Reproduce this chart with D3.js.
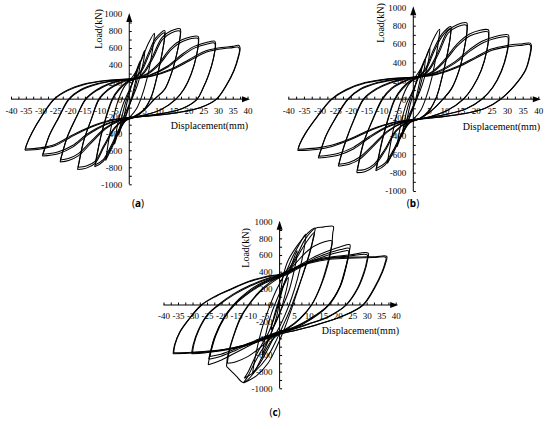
<!DOCTYPE html>
<html>
<head>
<meta charset="utf-8">
<script src="https://cdn.jsdelivr.net/npm/d3@7"></script>
<style>
body { margin: 0; background: #fff; }
svg text { font-family: "Liberation Serif", "Times New Roman", serif; fill: #000; }
.loop { fill: none; stroke: #000; stroke-width: 1.05; stroke-linejoin: round; }
.tick line { stroke: #000; }
</style>
</head>
<body>
<svg id="chart" width="550" height="429"></svg>
<script>
// tick labels
var xTickLabels = [-40,-35,-30,-25,-20,-15,-10,-5,5,10,15,20,25,30,35,40];
var yTickLabels = [-1000,-800,-600,-400,-200,0,200,400,600,800,1000];

// (a) hysteresis loops, [displacement mm, load kN]
var loopsA = [
  [[-2.4,-310],[-1.8,-210],[-0.9,-60],[0,60],[1,190],[2.6,340],[2.4,260],[1.6,130],[0.6,-10],[-0.4,-120],[-1.4,-230],[-2.4,-310]],
  [[-3.6,-420],[-3.1,-320],[-2.1,-150],[-0.9,0],[0.3,120],[1.6,250],[3.7,450],[3.5,360],[2.6,220],[1.3,50],[0,-80],[-1.3,-200],[-3.6,-420]],
  [[-5,-530],[-4.6,-430],[-3.6,-240],[-2.2,-70],[-0.6,60],[1,180],[2.6,320],[4,460],[5.2,570],[5,480],[4.1,330],[2.7,160],[1.1,20],[-0.5,-100],[-2,-220],[-3.5,-370],[-5,-530]],
  [[-8,-720],[-7.6,-630],[-6.6,-410],[-5.1,-180],[-3.6,0],[-1.6,150],[0.4,230],[2.4,330],[4.4,480],[6.4,650],[8.5,775],[8.3,690],[7.3,460],[6,240],[4.2,30],[2.5,-110],[0.5,-200],[-1.5,-260],[-3.5,-380],[-5.6,-550],[-8,-720]],
  [[-11.7,-795],[-11.2,-700],[-9.8,-460],[-7.8,-200],[-5.8,0],[-3.5,120],[-1,200],[1.5,240],[4,340],[6.5,540],[9,720],[12,805],[12,730],[11,520],[9.3,250],[7.5,30],[5,-130],[2,-210],[-1,-250],[-3.5,-370],[-6,-560],[-8.8,-730],[-11.7,-795]],
  [[-11.5,-770],[-11,-680],[-9.6,-440],[-7.6,-190],[-5.6,0],[-3.3,115],[-0.8,195],[1.6,235],[4.2,330],[6.7,520],[9.2,700],[11.9,780],[11.9,710],[10.9,500],[9.2,240],[7.4,25],[4.9,-125],[1.9,-205],[-1.1,-245],[-3.6,-360],[-6.1,-545],[-8.8,-710],[-11.5,-770]],
  [[-17.5,-827],[-17,-740],[-15.5,-500],[-13,-250],[-10.3,0],[-7,120],[-3.5,190],[0,230],[2.5,245],[5,325],[7.8,495],[11,720],[14,800],[17.2,827],[17.4,790],[16.5,600],[14.5,330],[12,120],[8.5,0],[5,-130],[1.5,-210],[-2,-250],[-5,-350],[-8.5,-560],[-11.5,-750],[-14.5,-810],[-17.5,-827]],
  [[-17.3,-800],[-16.8,-715],[-15.3,-480],[-12.8,-235],[-10.1,0],[-6.8,115],[-3.3,185],[0.2,225],[2.7,240],[5.2,315],[8,480],[11.2,700],[14.2,778],[17.1,800],[17.3,765],[16.4,580],[14.4,315],[11.9,110],[8.4,-5],[4.9,-130],[1.4,-205],[-2.1,-245],[-5.1,-340],[-8.6,-545],[-11.6,-730],[-14.5,-785],[-17.3,-800]],
  [[-23.4,-738],[-22.8,-660],[-21,-450],[-18,-220],[-14.8,0],[-11,110],[-7,180],[-3,220],[1.5,240],[6,300],[10,420],[14,600],[18,700],[23.3,737],[23.5,700],[22.8,520],[21,300],[18.5,120],[15.8,0],[11,-120],[6,-180],[1.5,-215],[-3,-250],[-8,-350],[-13,-520],[-17,-660],[-20.5,-720],[-23.4,-738]],
  [[-23.3,-715],[-22.7,-640],[-20.9,-435],[-17.9,-210],[-14.6,0],[-10.8,105],[-6.8,175],[-2.8,215],[1.7,235],[6.2,292],[10.2,408],[14.2,582],[18.2,680],[23.2,715],[23.4,680],[22.7,505],[20.9,290],[18.4,110],[15.6,-5],[10.8,-120],[5.8,-180],[1.3,-212],[-3.2,-245],[-8.2,-342],[-13.2,-505],[-17.2,-640],[-20.6,-698],[-23.3,-715]],
  [[-29.4,-667],[-28.8,-600],[-27,-420],[-24,-220],[-20.5,0],[-16.5,110],[-11,180],[-5,220],[1,240],[7,285],[13,390],[18,530],[22,620],[26,665],[28.9,682],[29.2,650],[28.5,480],[27,300],[25,130],[23,0],[18,-110],[11,-170],[4,-205],[-2,-235],[-8,-300],[-14,-420],[-19,-560],[-24,-640],[-29.4,-667]],
  [[-29.2,-648],[-28.6,-585],[-26.8,-410],[-23.8,-215],[-20.3,0],[-16.3,105],[-10.8,175],[-4.8,215],[1.2,236],[7.2,280],[13.2,380],[18.2,515],[22.2,602],[26.1,645],[28.8,660],[29.1,630],[28.4,470],[26.9,290],[24.9,125],[22.8,-5],[17.8,-112],[10.8,-170],[3.8,-203],[-2.2,-232],[-8.2,-295],[-14.2,-410],[-19.2,-545],[-24.2,-622],[-29.2,-648]],
  [[-35.3,-600],[-34.8,-540],[-33,-400],[-30,-220],[-25.5,0],[-21,105],[-15,180],[-8,220],[0,240],[7,270],[14,350],[20,460],[25,555],[30,600],[35,620],[37,632],[37.5,600],[37,500],[35.5,340],[33,170],[29.5,0],[24,-100],[16,-160],[8,-195],[1,-215],[-6,-250],[-13,-330],[-20,-450],[-25,-545],[-30,-585],[-35.3,-600]],
  [[-35.1,-585],[-34.6,-525],[-32.8,-390],[-29.8,-212],[-25.3,0],[-20.8,100],[-14.8,175],[-7.8,215],[0.2,236],[7.2,265],[14.2,342],[20.2,448],[25.2,540],[30.2,585],[35,605],[36.8,612],[37.3,585],[36.8,490],[35.3,330],[32.8,162],[29.3,-5],[23.8,-102],[15.8,-160],[7.8,-193],[0.8,-212],[-6.2,-246],[-13.2,-325],[-20.2,-440],[-25.2,-532],[-30.2,-572],[-35.1,-585]]
];

// (b) hysteresis loops
var loopsB = [
  [[-2.5,-300],[-1.9,-200],[-1,-60],[0,60],[1,190],[2.6,330],[2.4,250],[1.6,120],[0.6,-20],[-0.4,-120],[-1.5,-220],[-2.5,-300]],
  [[-3.7,-410],[-3.2,-310],[-2.2,-140],[-1,0],[0.3,120],[1.6,250],[3.8,440],[3.6,350],[2.7,210],[1.4,40],[0.1,-90],[-1.3,-210],[-3.7,-410]],
  [[-5.2,-520],[-4.8,-420],[-3.7,-230],[-2.3,-60],[-0.6,60],[1,180],[2.6,320],[4.1,460],[5.3,560],[5.1,470],[4.2,320],[2.8,150],[1.2,10],[-0.5,-110],[-2.1,-230],[-3.6,-370],[-5.2,-520]],
  [[-8.3,-700],[-7.9,-610],[-6.8,-400],[-5.3,-170],[-3.7,0],[-1.7,150],[0.4,230],[2.4,330],[4.4,480],[6.4,650],[8.4,760],[8.2,670],[7.2,450],[5.9,230],[4.1,20],[2.4,-120],[0.4,-205],[-1.6,-265],[-3.6,-380],[-5.8,-540],[-8.3,-700]],
  [[-12,-780],[-11.5,-690],[-10,-450],[-8,-200],[-6,0],[-3.6,120],[-1,200],[1.5,240],[4,340],[6.5,540],[9.2,710],[12,790],[12,720],[11,510],[9.3,250],[7.5,30],[5,-130],[2,-215],[-1,-255],[-3.6,-380],[-6.3,-570],[-9.2,-720],[-12,-780]],
  [[-11.8,-755],[-11.3,-670],[-9.8,-435],[-7.8,-190],[-5.8,0],[-3.4,115],[-0.8,195],[1.7,236],[4.2,330],[6.7,525],[9.4,692],[11.9,768],[11.9,700],[10.9,495],[9.2,240],[7.4,22],[4.9,-130],[1.9,-212],[-1.1,-250],[-3.7,-370],[-6.4,-555],[-9.2,-700],[-11.8,-755]],
  [[-18.1,-800],[-17.6,-710],[-16,-480],[-13,-220],[-10,0],[-7,120],[-3.5,190],[0,232],[2.5,248],[5,330],[8,520],[11,740],[14,810],[17.1,830],[17.3,790],[16.6,600],[14.8,330],[12.3,120],[9.5,0],[6,-120],[2,-215],[-2,-255],[-5.5,-350],[-9,-560],[-12.5,-730],[-15.5,-790],[-18.1,-800]],
  [[-17.9,-775],[-17.4,-690],[-15.8,-465],[-12.8,-212],[-9.8,0],[-6.8,115],[-3.3,185],[0.2,228],[2.7,244],[5.2,322],[8.2,505],[11.2,720],[14.1,788],[17,805],[17.2,768],[16.5,585],[14.7,320],[12.2,112],[9.4,-4],[5.9,-122],[1.9,-213],[-2.1,-250],[-5.6,-342],[-9.1,-545],[-12.6,-710],[-15.5,-765],[-17.9,-775]],
  [[-24,-730],[-23.4,-650],[-21.5,-440],[-19,-220],[-16,0],[-12,110],[-7.5,180],[-3,222],[1.5,242],[6,300],[10,430],[14,600],[18,710],[24,755],[24.2,715],[23.6,540],[21.8,320],[19,130],[16,0],[11,-120],[6,-185],[1.5,-222],[-3,-255],[-8,-350],[-13,-520],[-17,-650],[-20.5,-710],[-24,-730]],
  [[-23.8,-708],[-23.2,-630],[-21.3,-428],[-18.8,-212],[-15.8,0],[-11.8,106],[-7.3,176],[-2.8,218],[1.7,238],[6.2,294],[10.2,418],[14.2,582],[18.2,690],[23.9,732],[24.1,695],[23.5,525],[21.7,310],[18.9,125],[15.9,-4],[10.9,-122],[5.9,-185],[1.4,-220],[-3.1,-252],[-8.1,-342],[-13.1,-505],[-17.1,-630],[-20.6,-690],[-23.8,-708]],
  [[-30.4,-640],[-29.8,-575],[-28,-400],[-25,-210],[-21,0],[-17,110],[-11.5,180],[-5,222],[1,242],[7,290],[13,400],[18,540],[22,630],[26,680],[30.4,700],[30.6,665],[30,500],[28.3,310],[25.5,130],[22,0],[17,-105],[10,-170],[4,-208],[-2,-238],[-8,-300],[-14,-420],[-19,-540],[-24,-610],[-30.4,-640]],
  [[-30.2,-622],[-29.6,-560],[-27.8,-390],[-24.8,-205],[-20.8,0],[-16.8,106],[-11.3,176],[-4.8,218],[1.2,238],[7.2,284],[13.2,390],[18.2,525],[22.2,612],[26.1,660],[30.2,678],[30.4,645],[29.8,488],[28.1,302],[25.3,124],[21.8,-4],[16.8,-106],[9.8,-170],[3.8,-206],[-2.2,-235],[-8.2,-295],[-14.2,-410],[-19.2,-525],[-24.2,-592],[-30.2,-622]],
  [[-37,-560],[-36.5,-500],[-34.5,-370],[-31,-200],[-26.2,0],[-21.5,105],[-15.5,180],[-8,222],[0,242],[7,272],[14,355],[20,460],[25,545],[30,585],[35,603],[37.4,610],[37.8,585],[37.4,480],[36,320],[32.5,150],[28,0],[23,-100],[16,-160],[8,-198],[1,-222],[-6,-255],[-13,-330],[-20,-440],[-26,-515],[-31,-548],[-37,-560]],
  [[-36.8,-545],[-36.3,-488],[-34.3,-362],[-30.8,-195],[-26,0],[-21.3,100],[-15.3,175],[-7.8,218],[0.2,238],[7.2,267],[14.2,347],[20.2,450],[25.2,532],[30.2,570],[35,588],[37.2,595],[37.6,572],[37.2,470],[35.8,312],[32.3,145],[27.8,-4],[22.8,-102],[15.8,-160],[7.8,-196],[0.8,-220],[-6.2,-252],[-13.2,-325],[-20.2,-430],[-26.2,-502],[-31.2,-533],[-36.8,-545]]
];

// (c) hysteresis loops
var loopsC = [
  [[-3,-300],[-2.4,-200],[-1.3,-60],[-0.2,60],[1,200],[3,330],[2.7,240],[1.8,110],[0.8,-20],[-0.3,-130],[-1.6,-230],[-3,-300]],
  [[-6,-600],[-5.5,-480],[-4.3,-280],[-2.8,-100],[-1,60],[0.8,200],[2.5,340],[4.3,500],[6,650],[5.8,550],[4.8,380],[3.3,180],[1.5,20],[-0.3,-120],[-2,-260],[-3.8,-420],[-6,-600]],
  [[-9.3,-820],[-8.8,-700],[-7.5,-480],[-5.8,-250],[-3.8,-50],[-1.5,150],[0.5,290],[2.5,420],[4.5,580],[6.8,730],[9,850],[8.8,760],[7.8,560],[6.2,320],[4.2,90],[2,-110],[0,-260],[-2,-390],[-4.2,-540],[-6.6,-690],[-9.3,-820]],
  [[-12.5,-936],[-11,-860],[-9,-720],[-6.5,-560],[-4.5,-456],[-2.5,-300],[-1,-136],[0,50],[1.2,343],[3,540],[5.9,704],[9,840],[12.2,924],[11.8,840],[10.5,650],[8.5,420],[6,150],[3.6,-100],[1.5,-300],[-1,-500],[-4,-700],[-8,-850],[-12.5,-936]],
  [[-12.2,-880],[-10.8,-800],[-8.8,-650],[-6.2,-480],[-3.8,-330],[-1.8,-150],[0,60],[1.8,280],[4,450],[6.5,600],[9.3,760],[12,870],[11.6,790],[10.2,600],[8.2,380],[5.6,130],[3.2,-90],[1,-260],[-1.5,-450],[-4.5,-640],[-8.3,-790],[-12.2,-880]],
  [[-18.3,-737],[-17.8,-600],[-16,-380],[-13.5,-150],[-10.8,0],[-7,160],[-3,280],[0,340],[3,430],[6,600],[9,800],[12.3,920],[15,935],[18.5,944],[18.3,860],[18,730],[16.5,500],[14,220],[11,0],[7,-170],[3,-280],[0,-340],[-3,-440],[-6,-620],[-9,-820],[-12.5,-930],[-15,-850],[-18.3,-737]],
  [[-18,-700],[-17.5,-580],[-15.8,-370],[-13.3,-150],[-10.6,0],[-7,150],[-3,260],[0,330],[3,400],[6,520],[10,660],[14,740],[18,770],[17.8,680],[16.6,480],[14,210],[11,0],[7,-160],[3,-270],[0,-330],[-3,-400],[-7,-520],[-11,-620],[-15,-680],[-18,-700]],
  [[-24.6,-717],[-24,-600],[-22.5,-400],[-19.5,-170],[-16,0],[-11,160],[-6,270],[-1,340],[2,380],[6,460],[11,560],[16,640],[21,700],[24.2,724],[24,640],[23,470],[21,230],[17,0],[11,-170],[5,-280],[0,-330],[-5,-400],[-10,-480],[-15,-570],[-20,-660],[-24.6,-717]],
  [[-24.4,-650],[-23.8,-555],[-22.3,-375],[-19.3,-160],[-15.8,0],[-10.8,150],[-5.8,262],[-0.8,332],[2.2,372],[6.2,450],[11.2,545],[16.2,615],[21,665],[24,680],[23.8,605],[22.8,450],[20.8,220],[16.8,-4],[10.8,-165],[4.8,-275],[-0.2,-325],[-5.2,-392],[-10.2,-465],[-15.2,-545],[-20.2,-615],[-24.4,-650]],
  [[-24,-617],[-23.4,-530],[-21.9,-360],[-18.9,-150],[-15.5,0],[-10.5,145],[-5.5,255],[-0.5,326],[2.5,366],[6.5,440],[11.5,530],[16.5,598],[21.2,640],[23.8,650],[23.6,585],[22.6,435],[20.6,210],[16.6,-6],[10.6,-160],[4.6,-270],[-0.4,-320],[-5.4,-385],[-10.4,-455],[-15.4,-530],[-20.2,-590],[-24,-617]],
  [[-30.3,-585],[-29.8,-480],[-28,-300],[-25,-120],[-21.2,0],[-16,130],[-10,240],[-4,320],[0,360],[5,440],[10,520],[16,570],[24,600],[30.5,624],[30.3,540],[29.3,400],[27,200],[23,0],[17,-140],[10,-230],[4,-300],[0,-340],[-6,-420],[-13,-500],[-20,-550],[-26,-575],[-30.3,-585]],
  [[-30,-575],[-29.5,-470],[-27.7,-292],[-24.7,-115],[-20.9,0],[-15.7,125],[-9.7,234],[-3.7,314],[0.3,354],[5.3,432],[10.3,510],[16.3,560],[24.2,588],[30.2,602],[30,525],[29,390],[26.7,192],[22.7,-5],[16.7,-140],[9.7,-228],[3.7,-296],[-0.3,-335],[-6.3,-414],[-13.3,-492],[-20.3,-542],[-26,-566],[-30,-575]],
  [[-36.7,-585],[-36.2,-480],[-34.5,-330],[-31.5,-180],[-27,0],[-22,110],[-17,190],[-11,280],[-5,340],[0,370],[5,440],[10,510],[17,560],[26,575],[33,580],[36.9,584],[36.5,500],[35.5,400],[33,220],[28.8,0],[22,-130],[13,-236],[6,-300],[0,-350],[-9,-456],[-16,-520],[-23,-556],[-30,-575],[-36.7,-585]],
  [[-36.5,-575],[-36,-472],[-34.3,-324],[-31.3,-175],[-26.8,0],[-21.8,106],[-16.8,186],[-10.8,275],[-4.8,334],[0.2,364],[5.2,432],[10.2,500],[17.2,550],[26.2,564],[33,570],[36.6,572],[36.2,492],[35.2,392],[32.7,214],[28.5,-4],[21.7,-132],[12.7,-238],[5.7,-302],[-0.3,-350],[-9.3,-454],[-16.3,-516],[-23.3,-550],[-30.2,-567],[-36.5,-575]]
];

var panels = [
  { loops: loopsA, x0: 11, x1: 247.5, yTop: 14, yBot: 184.3, loadPos: [98, 29], dispPos: [248, 128.5], name: "a", namePos: [138, 207] },
  { loops: loopsB, x0: 288.3, x1: 538.3, yTop: 7.3, yBot: 191, loadPos: [380, 23], dispPos: [540, 129.5], name: "b", namePos: [413, 207] },
  { loops: loopsC, x0: 163.5, x1: 395.7, yTop: 221.7, yBot: 388.3, loadPos: [245, 248], dispPos: [399, 334], name: "c", namePos: [275, 416] }
];

var svg = d3.select("#chart");

panels.forEach(function(p) {
  var x = d3.scaleLinear().domain([-40, 40]).range([p.x0, p.x1]);
  var y = d3.scaleLinear().domain([-1000, 1000]).range([p.yBot, p.yTop]);
  var g = svg.append("g");
  var x0 = x(0), y0 = y(0);

  // x axis: minor ticks up, labels below
  g.append("g").attr("transform", "translate(0," + y0 + ")")
    .call(d3.axisBottom(x).tickValues(d3.range(-40, 40.1, 2.5)).tickSize(-2.5).tickFormat(""))
    .call(function(s) { s.select(".domain").remove(); });
  g.append("g").attr("transform", "translate(0," + y0 + ")")
    .call(d3.axisBottom(x).tickValues(xTickLabels).tickSize(0).tickPadding(8).tickFormat(function(d) { return String(d); }))
    .call(function(s) { s.select(".domain").remove(); s.selectAll("text").attr("font-family", null).attr("font-size", null).style("font-size", "9px"); });

  // y axis: minor ticks right, labels left
  g.append("g").attr("transform", "translate(" + x0 + ",0)")
    .call(d3.axisLeft(y).tickValues(d3.range(-1000, 901, 100)).tickSize(-2.5).tickFormat(""))
    .call(function(s) { s.select(".domain").remove(); });
  g.append("g").attr("transform", "translate(" + x0 + ",0)")
    .call(d3.axisLeft(y).tickValues(yTickLabels).tickSize(0).tickPadding(7).tickFormat(function(d) { return String(d); }))
    .call(function(s) { s.select(".domain").remove(); s.selectAll("text").attr("font-family", null).attr("font-size", null).style("font-size", "9px"); });

  // axis lines and arrows
  var xEnd = x(40) + 2.5, yEnd = y(1000) - 1;
  g.append("line").attr("x1", x(-40)).attr("x2", xEnd - 6).attr("y1", y0).attr("y2", y0).attr("stroke", "#000");
  g.append("path").attr("d", "M" + xEnd + "," + y0 + "L" + (xEnd - 8) + "," + (y0 - 3) + "L" + (xEnd - 8) + "," + (y0 + 3) + "Z").attr("fill", "#000");
  g.append("line").attr("x1", x0).attr("x2", x0).attr("y1", y(-1000)).attr("y2", yEnd + 6).attr("stroke", "#000");
  g.append("path").attr("d", "M" + x0 + "," + yEnd + "L" + (x0 - 3) + "," + (yEnd + 9) + "L" + (x0 + 3) + "," + (yEnd + 9) + "Z").attr("fill", "#000");

  // titles
  g.append("text").attr("transform", "translate(" + p.loadPos[0] + "," + p.loadPos[1] + ") rotate(-90)")
    .attr("text-anchor", "middle").attr("dy", "0.35em").style("font-size", "10px").text("Load(kN)");
  g.append("text").attr("x", p.dispPos[0]).attr("y", p.dispPos[1]).attr("text-anchor", "end")
    .style("font-size", "10px").text("Displacement(mm)");

  // loops
  var line = d3.line().x(function(d) { return x(d[0]); }).y(function(d) { return y(d[1]); })
    .curve(d3.curveCatmullRom.alpha(0.5));
  g.selectAll("path.loop").data(p.loops).enter().append("path")
    .attr("class", "loop").attr("d", line);

  // panel name
  var t = svg.append("text").attr("x", p.namePos[0]).attr("y", p.namePos[1]).attr("text-anchor", "middle")
    .style("font-family", "'Noto Sans', sans-serif").style("font-size", "10px");
  t.append("tspan").text("(");
  t.append("tspan").style("font-weight", "bold").text(p.name);
  t.append("tspan").text(")");
});
</script>
</body>
</html>
